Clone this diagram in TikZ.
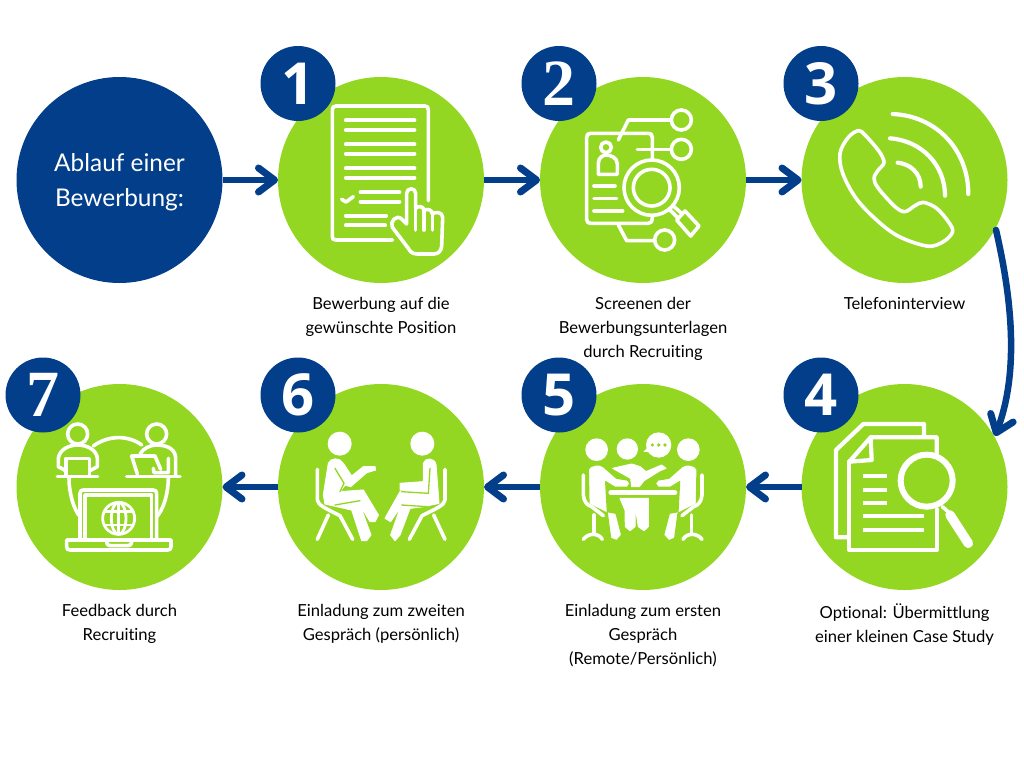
\documentclass[tikz,border=0pt]{standalone}
\usepackage{fontspec}
\setmainfont[Ligatures=NoCommon]{Lato}
\newfontfamily\numserif{Liberation Serif}
\newfontfamily\numsans{Open Sans}
\usetikzlibrary{arrows.meta}
\definecolor{leaf}{HTML}{94D723}
\definecolor{navy}{HTML}{023E8A}
\tikzset{
  x=1pt,y=-1pt,
  stage/.style={circle,fill=leaf,minimum size=206pt,inner sep=0pt,outer sep=0pt},
  startdisc/.style={circle,fill=navy,minimum size=206pt,inner sep=0pt,outer sep=0pt},
  starttext/.style={text=white,align=center,inner sep=0pt,font=\fontsize{24.4}{35}\selectfont},
  badge/.style={circle,fill=navy,minimum size=75pt,inner sep=0pt,outer sep=0pt,text=white},
  bignumsans/.style={font=\numsans\bfseries\fontsize{58}{58}\selectfont},
  bignumserif/.style={font=\numserif\bfseries\fontsize{66}{66}\selectfont},
  caption/.style={align=center,font=\fontsize{16.6}{24}\selectfont,text=black,anchor=north,inner sep=0pt},
  flow/.style={draw=navy,line width=6.5pt,-{Straight Barb[round,length=16pt,width=24pt,line width=7pt]}},
  ink/.style={draw=white,line width=3.6pt,line cap=round,line join=round},
  thin ink/.style={draw=white,line width=2.8pt,line cap=round,line join=round},
  heavy ink/.style={draw=white,line width=4.2pt,line cap=round,line join=round},
  fat/.style={draw=white,line width=4.2pt,line cap=round},
  solid ink/.style={fill=white,draw=white,line width=1pt,line join=round},
  cut figure/.style={fill=white,draw=leaf,line width=1.2pt,line join=round},
  gap/.style={draw=leaf,line width=1.3pt,line cap=round},
  zoomed/.style={x=1/3*1pt,y=-1/3*1pt},
}
\begin{document}
\begin{tikzpicture}
\useasboundingbox (0,0) rectangle (1024,768);

% main discs
\node[startdisc] (start) at (119.5,180) {};
\node[starttext] (starttitle) at (119.5,182) {Ablauf einer\\Bewerbung:};
\node[stage] (s1) at (381,180) {};
\node[stage] (s2) at (643,180) {};
\node[stage] (s3) at (904.5,180) {};
\node[stage] (s4) at (904.5,487) {};
\node[stage] (s5) at (643,487) {};
\node[stage] (s6) at (381,487) {};
\node[stage] (s7) at (119.5,487) {};

% connectors
\coordinate (bendfrom) at (996,230);
\coordinate (bendto) at (995,436);
\draw[flow] (start.east) -- (s1.west);
\draw[flow] (s1.east) -- (s2.west);
\draw[flow] (s2.east) -- (s3.west);
\draw[flow,line cap=round] (bendfrom) .. controls (1011,295) and (1020,370) .. (bendto);
\draw[flow] (s4.west) -- (s5.east);
\draw[flow] (s5.west) -- (s6.east);
\draw[flow] (s6.west) -- (s7.east);

% number badges
\node[badge,bignumsans]  (b1) at (298,83.5) {1};
\node[badge,bignumserif] (b2) at (559,83.5) {2};
\node[badge,bignumsans]  (b3) at (821,83.5) {3};
\node[badge,bignumsans]  (b4) at (821,395) {4};
\node[badge,bignumsans]  (b5) at (559,395) {5};
\node[badge,bignumsans]  (b6) at (298,395) {6};
\node[badge,bignumserif] (b7) at (43,395) {7};

% captions
\node[caption] (c1) at (381,297) {Bewerbung auf die\\gewünschte Position};
\node[caption] (c2) at (643,297) {Screenen der\\Bewerbungsunterlagen\\durch Recruiting};
\node[caption] (c3) at (904.5,297) {Telefoninterview};
\node[caption] (c4) at (904.5,604) {Optional: Übermittlung\\einer kleinen Case Study};
\node[caption] (c5) at (643,604) {Einladung zum ersten\\Gespräch\\(Remote/Persönlich)};
\node[caption] (c6) at (381,604) {Einladung zum zweiten\\Gespräch (persönlich)};
\node[caption] (c7) at (119.5,604) {Feedback durch\\Recruiting};

% form with pointing hand
\begin{scope}[shift={(260,40)},zoomed]
  \draw[ink] (505,482) -- (505,210) .. controls (505,202) and (502,198) .. (495,198)
     -- (228,198) .. controls (220,198) and (217,202) .. (217,210)
     -- (217,590) .. controls (217,597) and (220,600) .. (228,600) -- (398,600);
  \foreach \yy in {241,270,313,341,385,413}
    \draw[fat] (258,\yy) -- (463,\yy);
  \draw[ink] (245,478) -- (258,486) -- (280,470);
  \draw[fat] (302,457) -- (418,457);
  \draw[fat] (302,485) -- (418,485);
  \draw[fat] (258,527) -- (378,527);
  \draw[fat] (258,556) -- (375,556);
  \draw[ink,fill=leaf] (440,552) -- (440,460) .. controls (440,442) and (467,442) .. (467,460)
     -- (467,505) .. controls (472,497) and (492,497) .. (492,512)
     .. controls (500,505) and (517,508) .. (517,522)
     .. controls (525,514) and (548,516) .. (548,532)
     -- (545,618) .. controls (544,632) and (535,642) .. (522,642)
     -- (472,642) .. controls (458,642) and (450,635) .. (445,625)
     -- (397,562) .. controls (388,545) and (410,522) .. (425,537) -- cycle;
  \draw[ink] (467,505) -- (467,570);
  \draw[ink] (492,512) -- (492,570);
  \draw[ink] (517,522) -- (517,570);
\end{scope}

% screening a profile with a magnifier
\begin{scope}[shift={(520,40)},zoomed]
  \draw[ink] (397,358) -- (397,292) .. controls (397,283) and (392,280) .. (385,280)
     -- (212,280) .. controls (204,280) and (200,284) .. (200,292)
     -- (200,538) .. controls (200,546) and (204,550) .. (212,550)
     -- (385,550) .. controls (392,550) and (397,546) .. (397,532);
  \draw[ink] (258,322) circle[radius=16];
  \draw[ink] (235,403) -- (235,370) .. controls (235,352) and (250,345) .. (258,345)
     .. controls (270,345) and (292,352) .. (292,372) -- (292,403) -- cycle;
  \draw[ink] (222,438) -- (285,438);
  \draw[ink] (222,476) -- (290,476);
  \draw[ink] (222,513) -- (308,513);
  \draw[ink] (295,300) -- (325,240) -- (455,240);
  \draw[ink] (484,240) circle[radius=30];
  \draw[ink] (352,328) -- (455,328);
  \draw[ink] (484,328) circle[radius=30];
  \draw[ink] (295,555) -- (320,602) -- (405,602);
  \draw[ink] (434,600) circle[radius=30];
  \draw[ink,fill=leaf] (395,443) circle[radius=83];
  \draw[ink] (395,443) circle[radius=55];
  \draw[ink] (450,510) -- (475,535);
  \draw[ink] (462,500) -- (487,522);
  \draw[ink,fill=leaf] (470,540) -- (495,513) -- (537,558) -- (512,588) -- cycle;
\end{scope}

% telephone handset with signal arcs
\begin{scope}[shift={(780,40)},zoomed]
  \draw[ink] plot[smooth cycle,tension=.55] coordinates {
     (235,272) (205,292) (180,340) (190,405) (240,490) (340,580) (440,618)
     (490,605) (518,575) (505,545) (470,505) (430,487) (405,497) (375,515)
     (345,500) (295,445) (282,415) (295,390) (312,368) (298,335) (255,285)};
  \draw[heavy ink] (338,222) .. controls (470,228) and (565,330) .. (565,462);
  \draw[heavy ink] (330,295) .. controls (425,302) and (495,375) .. (495,467);
  \draw[heavy ink] (353,368) .. controls (392,372) and (422,400) .. (422,440);
\end{scope}

% stacked documents under a magnifier
\begin{scope}[shift={(780,350)},zoomed]
  \draw[heavy ink] (432,258) -- (432,222) -- (250,222) -- (168,300) -- (168,562) -- (205,562);
  \draw[heavy ink] (208,335) -- (272,262) -- (470,262) -- (470,312);
  \draw[heavy ink] (208,335) -- (208,600) -- (470,600) -- (470,478);
  \draw[heavy ink] (272,262) -- (275,330) -- (208,335);
  \foreach \yy in {378,419,459}
    \draw[draw=white,line width=4pt] (248,\yy) -- (320,\yy);
  \foreach \yy in {499,539}
    \draw[draw=white,line width=4pt] (248,\yy) -- (431,\yy);
  \draw[draw=white,line width=6pt] (440,392) circle[radius=78];
  \draw[ink] (487,470) -- (510,490);
  \draw[draw=white,line width=9.5pt,line cap=round] (510,495) -- (565,580);
\end{scope}

% three people at a table
\begin{scope}[shift={(520,350)},zoomed]
  \fill[white] (230,299) circle[radius=34];
  \fill[white] (322,297) circle[radius=32];
  \fill[white] (505,299) circle[radius=34];
  \fill[white] (416,285) circle[radius=38];
  \fill[white] (385,290) -- (370,305) -- (400,308) -- cycle;
  \foreach \xx in {397,416,435} \fill[leaf] (\xx,285) circle[radius=5.5];
  % centre person
  \path[solid ink] (278,355) -- (335,342) -- (360,350) -- (378,365) -- (425,345)
     -- (438,355) -- (420,362) -- (372,392) -- (358,410) -- (335,410) -- (332,385) -- cycle;
  \path[solid ink] (300,445) -- (385,445) -- (385,530) -- (372,542) -- (355,530)
     -- (345,465) -- (345,530) -- (330,542) -- (316,530) -- (315,480) -- cycle;
  % table
  \draw[draw=leaf,line width=6.5pt,line cap=round] (272,428) -- (465,428);
  \draw[draw=white,line width=4.5pt,line cap=round] (272,428) -- (465,428);
  % outer people and chairs, one mirrored from the other
  \foreach \sc/\dx in {1/0,-1/736}{
    \begin{scope}[shift={(\dx,0)},xscale=\sc]
      \path[cut figure] (205,358) .. controls (208,345) and (240,340) .. (250,350)
         -- (290,385) -- (322,390) -- (330,400) -- (322,412) -- (285,412) -- (257,395)
         -- (262,485) -- (288,490) -- (305,555) -- (290,572) -- (272,565) -- (262,490)
         -- (207,462) -- cycle;
      \draw[ink] (190,375) -- (190,435) .. controls (192,455) and (200,465) .. (215,470) -- (250,497);
      \draw[ink] (222,495) -- (222,550);
      \draw[ink] (190,568) .. controls (205,548) and (235,548) .. (247,568);
    \end{scope}
  }
\end{scope}

% two people in conversation
\begin{scope}[shift={(260,350)},zoomed]
  \fill[white] (239,281) circle[radius=36];
  \fill[white] (487,281) circle[radius=36];
  % left figure
  \path[solid ink] (205,340) .. controls (212,322) and (240,322) .. (250,340)
     -- (275,378) -- (310,350) -- (345,350) -- (347,360) -- (320,368) -- (272,410)
     -- (255,405) -- (240,425) -- (310,420) -- (355,495) -- (345,515) -- (330,515) -- (300,465)
     -- (333,555) -- (320,572) -- (305,572) -- (275,480) -- (195,462) -- (190,435) -- cycle;
  \draw[gap] (225,355) -- (252,400) -- (240,425);
  \draw[gap] (225,465) -- (300,452);
  \draw[ink] (172,358) -- (172,450) .. controls (175,465) and (190,472) .. (240,497) -- (278,568);
  \draw[ink] (205,495) -- (172,568);
  % right figure
  \path[solid ink] (490,340) .. controls (495,322) and (525,322) .. (528,345)
     -- (537,460) -- (490,470) -- (450,475) -- (420,555) -- (405,572) -- (392,555)
     -- (422,470) -- (392,515) -- (375,505) -- (420,425) -- (495,428) -- (420,420)
     -- (420,400) -- (490,395) -- cycle;
  \draw[gap] (425,425) -- (505,430) -- (510,355);
  \draw[gap] (425,465) -- (500,470);
  \draw[ink] (555,358) -- (555,450) .. controls (552,465) and (537,472) .. (486,497) -- (448,568);
  \draw[ink] (521,495) -- (555,568);
\end{scope}

% remote conversation over a laptop
\begin{scope}[shift={(0,350)},zoomed]
  \draw[ink] (233,252) circle[radius=30];
  \draw[ink] (197,362) -- (175,350) -- (175,325) .. controls (178,300) and (205,285) .. (233,285)
     .. controls (262,285) and (290,300) .. (292,325) -- (292,350) -- (270,362);
  \draw[ink] (198,378) -- (198,325) -- (268,325) -- (268,378);
  \draw[ink] (172,380) -- (293,380);
  \draw[ink] (470,252) circle[radius=30];
  \draw[ink] (420,312) .. controls (430,295) and (450,285) .. (470,285)
     .. controls (505,285) and (527,300) .. (527,325) -- (527,378);
  \draw[ink] (412,372) -- (395,318) -- (465,318) -- (482,358);
  \draw[ink] (460,355) -- (462,368) -- (505,368) -- (505,325);
  \draw[ink] (380,380) -- (540,380);
  \draw[ink] (280,288) .. controls (325,255) and (385,255) .. (425,285);
  \draw[ink] (207,385) .. controls (207,430) and (222,480) .. (240,500);
  \draw[ink] (505,385) .. controls (505,430) and (490,480) .. (470,500);
  \draw[ink] (240,565) -- (240,430) .. controls (240,422) and (245,420) .. (250,420)
     -- (460,420) .. controls (466,420) and (470,424) .. (470,430) -- (470,565);
  \draw[ink] (255,565) -- (255,435) -- (455,435) -- (455,565);
  \draw[ink] (200,570) -- (513,570) -- (513,590) .. controls (513,597) and (510,600) .. (503,600)
     -- (210,600) .. controls (203,600) and (200,597) .. (200,590) -- cycle;
  \draw[ink] (320,572) .. controls (320,585) and (325,587) .. (332,587) -- (382,587)
     .. controls (390,587) and (395,585) .. (395,572);
  \draw[thin ink] (356,505) circle[radius=48];
  \draw[thin ink] (356,505) ellipse[x radius=22,y radius=48];
  \draw[thin ink] (356,457) -- (356,553);
  \draw[thin ink] (313,485) -- (399,485);
  \draw[thin ink] (313,525) -- (399,525);
\end{scope}
\end{tikzpicture}
\end{document}
